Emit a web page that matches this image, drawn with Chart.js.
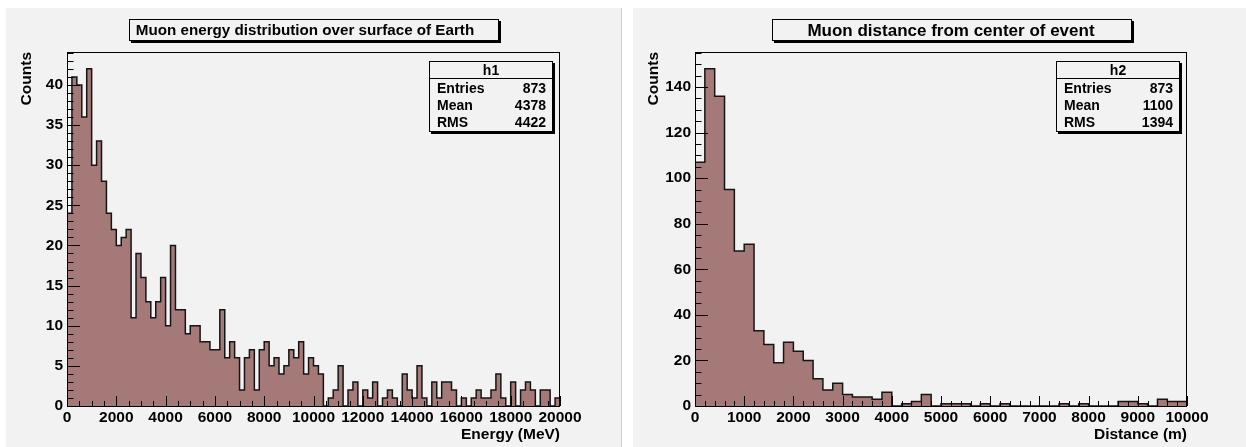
<!DOCTYPE html>
<html>
<head>
<meta charset="utf-8">
<script src="https://cdn.jsdelivr.net/npm/chart.js@4/dist/chart.umd.min.js"></script>
<style>
  html, body { margin: 0; padding: 0; background: #fff; }
  body { width: 1246px; height: 447px; position: relative; overflow: hidden; }
  .pad { position: absolute; top: 8px; }
  .pad canvas { display: block; }
  #pad1 { left: 6px; }
  #pad2 { left: 633px; }
</style>
</head>
<body>
<div class="pad" id="pad1"><canvas id="energyChart" width="616" height="439"></canvas></div>
<div class="pad" id="pad2"><canvas id="distanceChart" width="613" height="439"></canvas></div>
<script>
// h1: muon energy, 100 bins over 0..20000 MeV
const energyCounts = [
    24, 41, 40, 36, 42, 30, 33, 28, 24, 22,
    20, 21, 22, 11, 19, 16, 13, 11, 13, 16,
    10, 20, 12, 12, 9, 10, 10, 8, 8, 7,
    7, 12, 6, 8, 6, 2, 6, 7, 2, 7,
    8, 5, 6, 4, 5, 7, 6, 8, 4, 6,
    5, 4, 0, 1, 2, 5, 0, 2, 3, 0,
    2, 1, 3, 0, 1, 2, 1, 0, 4, 2,
    1, 5, 1, 0, 3, 1, 3, 3, 2, 0,
    1, 0, 1, 2, 1, 1, 2, 4, 1, 0,
    3, 0, 2, 3, 2, 0, 2, 2, 0, 1
];
const energyRange = [0, 20000];
const energyXTicks = { major: 2000, minor: 500 };
const energyYTicks = { major: 5, minor: 1 };

// h2: muon distance, 50 bins over 0..10000 m
const distanceCounts = [
    107, 148, 136, 95, 68, 71, 33, 27, 19, 28,
    24, 20, 12, 7, 10, 5, 4, 4, 3, 6,
    0, 1, 2, 5, 0, 1, 1, 1, 0, 1,
    0, 1, 0, 0, 0, 0, 0, 1, 0, 1,
    0, 0, 0, 2, 2, 1, 0, 3, 2, 2
];
const distanceRange = [0, 10000];
const distanceXTicks = { major: 1000, minor: 200 };
const distanceYTicks = { major: 20, minor: 5 };

const statLabels = ['Entries', 'Mean', 'RMS'];
const energyStats = ['873', '4378', '4422'];
const distanceStats = ['873', '1100', '1394'];

const FONT = "'Liberation Sans', Arial, Helvetica, sans-serif";
const PAD_BG = '#f2f2f2';
const FILL = '#a67979';
const EDGE = '#151515';

// outline of the histogram: both corners of every bin
function histPoints(counts, range) {
    const w = (range[1] - range[0]) / counts.length;
    const pts = [{ x: range[0], y: 0 }];
    counts.forEach((c, i) => {
        pts.push({ x: range[0] + i * w, y: c });
        pts.push({ x: range[0] + (i + 1) * w, y: c });
    });
    pts.push({ x: range[1], y: 0 });
    return pts;
}

function shadowBox(ctx, x, y, w, h) {
    ctx.fillStyle = '#000';
    ctx.fillRect(x + 2, y + 2, w, h);
    ctx.fillStyle = PAD_BG;
    ctx.fillRect(x, y, w, h);
    ctx.strokeStyle = '#000';
    ctx.lineWidth = 1;
    ctx.strokeRect(x + 0.5, y + 0.5, w - 1, h - 1);
}

// ROOT-like pad: background, inner ticks, frame, title and stats box
const rootPad = {
    id: 'rootPad',
    beforeDraw(chart, args, o) {
        const { ctx, width, height } = chart;
        ctx.save();
        ctx.fillStyle = PAD_BG;
        ctx.fillRect(0, 0, width, height);
        if (o.edge) {
            ctx.fillStyle = '#cdcdcd';
            ctx.fillRect(width - 1, 0, 1, height);
        }
        ctx.restore();
    },
    afterDatasetsDraw(chart, args, o) {
        const { ctx, chartArea: a, scales: { x, y } } = chart;
        ctx.save();
        ctx.strokeStyle = '#000';
        ctx.lineWidth = 1;
        ctx.beginPath();
        const nx = Math.round((x.max - x.min) / o.xTicks.minor);
        for (let i = 0; i <= nx; i++) {
            const v = x.min + i * o.xTicks.minor;
            const px = Math.round(x.getPixelForValue(v)) + 0.5;
            const len = v % o.xTicks.major === 0 ? 10 : 5;
            ctx.moveTo(px, a.bottom);
            ctx.lineTo(px, a.bottom - len);
        }
        const ny = Math.floor(y.max / o.yTicks.minor);
        for (let i = 0; i <= ny; i++) {
            const v = i * o.yTicks.minor;
            const py = Math.round(y.getPixelForValue(v)) + 0.5;
            const len = v % o.yTicks.major === 0 ? 13 : 6.5;
            ctx.moveTo(a.left, py);
            ctx.lineTo(a.left + len, py);
        }
        ctx.stroke();
        ctx.strokeRect(Math.round(a.left) + 0.5, Math.round(a.top) + 0.5,
            Math.round(a.right - a.left) - 1, Math.round(a.bottom - a.top));
        ctx.restore();
    },
    afterDraw(chart, args, o) {
        const { ctx, chartArea: a } = chart;
        ctx.save();
        // title
        const t = o.title;
        shadowBox(ctx, t.box[0], t.box[1], t.box[2], t.box[3]);
        ctx.fillStyle = '#000';
        ctx.font = 'bold ' + t.size + 'px ' + FONT;
        ctx.textAlign = 'center';
        ctx.textBaseline = 'alphabetic';
        ctx.fillText(t.text, t.cx, t.baseline);
        // stats
        const bw = 124, bh = 71;
        const bx = Math.round(a.right) - 7 - bw;
        const by = Math.round(a.top) + 9;
        shadowBox(ctx, bx, by, bw, bh);
        ctx.beginPath();
        ctx.moveTo(bx, by + 17.5);
        ctx.lineTo(bx + bw, by + 17.5);
        ctx.stroke();
        ctx.fillStyle = '#000';
        ctx.font = 'bold 14px ' + FONT;
        ctx.textAlign = 'center';
        ctx.fillText(o.stats.name, bx + bw / 2, by + 13.5);
        statLabels.forEach((lab, i) => {
            const yy = by + 31.5 + i * 17.3;
            ctx.textAlign = 'left';
            ctx.fillText(lab, bx + 8, yy);
            ctx.textAlign = 'right';
            ctx.fillText(o.stats.values[i], bx + bw - 7, yy);
        });
        ctx.restore();
    }
};

function makeChart(id, cfg) {
    const ymax = Math.max(...cfg.counts) * 1.05;
    const tickFont = { family: FONT, size: 15.5, weight: 'bold', lineHeight: 1 };
    return new Chart(document.getElementById(id), {
        type: 'line',
        data: {
            datasets: [{
                data: histPoints(cfg.counts, cfg.range),
                fill: 'origin',
                backgroundColor: FILL,
                borderColor: EDGE,
                borderWidth: 1.5,
                borderJoinStyle: 'miter',
                pointRadius: 0,
                tension: 0
            }]
        },
        options: {
            responsive: false,
            animation: false,
            events: [],
            layout: { padding: { left: 0, top: 44, right: cfg.padRight, bottom: 0 } },
            plugins: {
                legend: { display: false },
                tooltip: { enabled: false },
                rootPad: {
                    edge: cfg.edge,
                    xTicks: cfg.xTicks,
                    yTicks: cfg.yTicks,
                    title: cfg.title,
                    stats: cfg.stats
                }
            },
            scales: {
                x: {
                    type: 'linear',
                    min: cfg.range[0],
                    max: cfg.range[1],
                    grid: { display: false, drawTicks: false },
                    border: { display: false },
                    ticks: {
                        stepSize: cfg.xTicks.major,
                        autoSkip: false,
                        maxRotation: 0,
                        padding: 3.5,
                        color: '#000',
                        font: tickFont,
                        callback: v => String(v)
                    },
                    title: {
                        display: true,
                        text: cfg.xTitle,
                        align: 'end',
                        color: '#000',
                        font: tickFont,
                        padding: { top: 0, bottom: 4.5 }
                    },
                    afterFit: s => { s.height = 41; }
                },
                y: {
                    type: 'linear',
                    min: 0,
                    max: ymax,
                    grid: { display: false, drawTicks: false },
                    border: { display: false },
                    ticks: {
                        stepSize: cfg.yTicks.major,
                        includeBounds: false,
                        padding: 4,
                        color: '#000',
                        font: tickFont,
                        callback: v => String(v)
                    },
                    title: {
                        display: true,
                        text: 'Counts',
                        align: 'end',
                        color: '#000',
                        font: tickFont,
                        padding: { top: 13.25, bottom: 0 }
                    },
                    afterFit: s => { s.width = cfg.yWidth; }
                }
            }
        },
        plugins: [rootPad]
    });
}

makeChart('energyChart', {
    counts: energyCounts,
    range: energyRange,
    xTicks: energyXTicks,
    yTicks: energyYTicks,
    xTitle: 'Energy (MeV)',
    padRight: 62,
    yWidth: 61,
    edge: true,
    title: { text: 'Muon energy distribution over surface of Earth', box: [123, 11, 370, 22], size: 15.2, cx: 299, baseline: 27 },
    stats: { name: 'h1', values: energyStats }
});

makeChart('distanceChart', {
    counts: distanceCounts,
    range: distanceRange,
    xTicks: distanceXTicks,
    yTicks: distanceYTicks,
    xTitle: 'Distance (m)',
    padRight: 59,
    yWidth: 62,
    edge: false,
    title: { text: 'Muon distance from center of event', box: [139, 11, 360, 22], size: 17, cx: 318, baseline: 28 },
    stats: { name: 'h2', values: distanceStats }
});
</script>
</body>
</html>
